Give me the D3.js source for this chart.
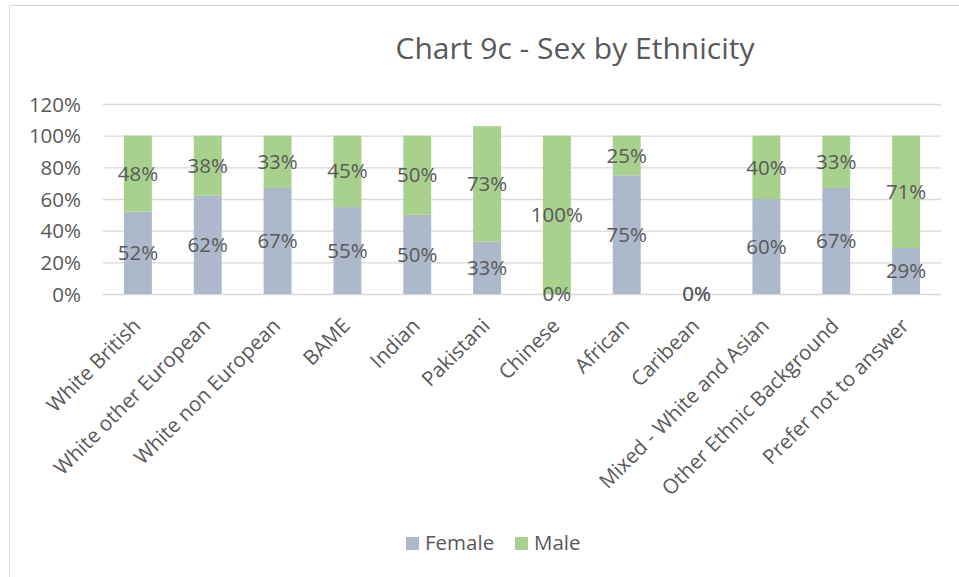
<!DOCTYPE html>
<html><head><meta charset="utf-8">
<script src="https://cdn.jsdelivr.net/npm/d3@7"></script>
<style>body{margin:0;background:#fff}svg{display:block}text{font-family:"Open Sans",sans-serif;fill:#595959}</style>
</head><body><svg id="c" width="959" height="577"></svg>
<script>
const categories = ["White British","White other European","White non European","BAME","Indian","Pakistani","Chinese","African","Caribean","Mixed - White and Asian","Other Ethnic Background","Prefer not to answer"];
const female = [52,62,67,55,50,33,0,75,0,60,67,29];
const male = [48,38,33,45,50,73,100,25,0,40,33,71];
const yTicks = [0,20,40,60,80,100,120];
const seriesNames = ["Female","Male"];
const colors = ["#ADB9CA","#A9D18E"];

const svg = d3.select("#c");
svg.append("rect").attr("x",9.5).attr("y",5.5).attr("width",1000).attr("height",1000).attr("fill","#fff").attr("stroke","#D9D9D9");

const m = {l:103, r:941, t:104, b:294};
const x = d3.scaleBand().domain(categories).range([m.l,m.r]).paddingInner(0.6).paddingOuter(0.3);
const y = d3.scaleLinear().domain([0,120]).range([m.b,m.t]);

svg.append("text").attr("x",575).attr("y",59).attr("text-anchor","middle").style("font-size","30px").text("Chart 9c - Sex by Ethnicity");

const yAxis = d3.axisLeft(y).tickValues(yTicks).tickFormat(d=>d+"%").tickSize(-(m.r-m.l)).tickPadding(22);
const gy = svg.append("g").attr("transform",`translate(${m.l},0)`).call(yAxis);
gy.select(".domain").remove();
gy.selectAll(".tick line").attr("stroke","#D9D9D9").attr("stroke-width",1.3);
gy.selectAll(".tick text").style("font-size","20.5px").attr("fill","#595959").attr("dy","0.35em");

const rows = categories.map((c,i)=>({c, f:female[i], m:male[i]}));
const stack = d3.stack().keys(["f","m"])(rows);
stack.forEach((s,si)=>{
  svg.append("g").selectAll("rect").data(s).join("rect")
    .attr("x",d=>x(d.data.c)).attr("width",x.bandwidth())
    .attr("y",d=>y(d[1])).attr("height",d=>y(d[0])-y(d[1]))
    .attr("fill",colors[si]);
});
stack.forEach((s,si)=>{
  svg.append("g").selectAll("text").data(s).join("text")
    .attr("x",d=>x(d.data.c)+x.bandwidth()/2)
    .attr("y",d=>(y(d[0])+y(d[1]))/2)
    .attr("dy","0.35em").attr("text-anchor","middle")
    .style("font-size","20.5px").attr("fill","#404040")
    .text(d=>(d[1]-d[0])+"%");
});

const gx = svg.append("g").attr("transform",`translate(0,${m.b})`)
  .call(d3.axisBottom(x).tickSize(0).tickPadding(0));
gx.select(".domain").remove();
gx.selectAll(".tick text")
  .attr("text-anchor","end").attr("dy",0).attr("y",0)
  .attr("transform","translate(4,33) rotate(-45)")
  .style("font-size","20.5px").attr("fill","#595959");

const lg = svg.append("g");
const litems = [{n:seriesNames[0],c:colors[0],x:406},{n:seriesNames[1],c:colors[1],x:515}];
litems.forEach(it=>{
  lg.append("rect").attr("x",it.x).attr("y",537).attr("width",13).attr("height",13).attr("fill",it.c);
  lg.append("text").attr("x",it.x+19).attr("y",550).style("font-size","20.5px").attr("fill","#595959").text(it.n);
});
</script></body></html>
